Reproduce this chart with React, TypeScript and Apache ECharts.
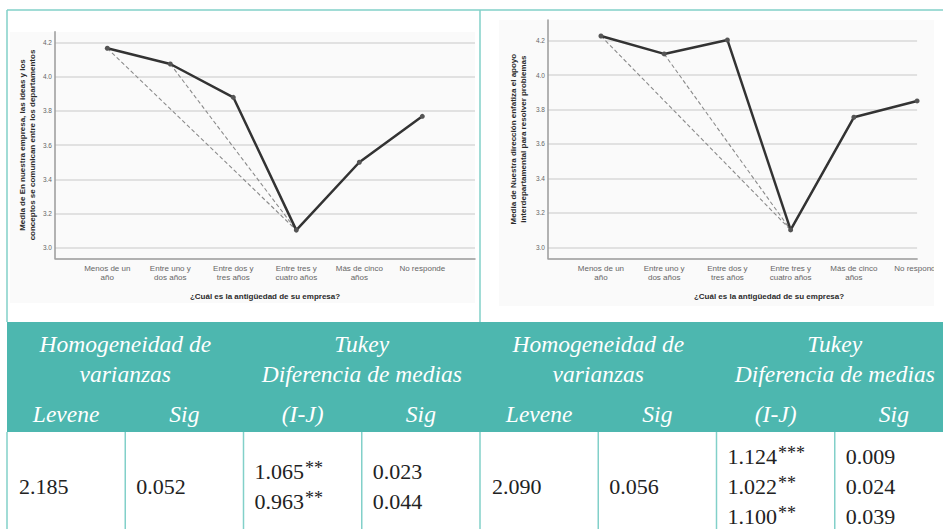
import React, { useEffect, useRef } from "react";
import * as echarts from "echarts";

// ---------- data ----------
const categoryLabels = [
  "Menos de un\naño",
  "Entre uno y\ndos años",
  "Entre dos y\ntres años",
  "Entre tres y\ncuatro años",
  "Más de cinco\naños",
  "No responde",
];
const yTicks = [3.0, 3.2, 3.4, 3.6, 3.8, 4.0, 4.2];
const means1 = [4.167, 4.075, 3.88, 3.103, 3.5, 3.769];
const means2 = [4.227, 4.123, 4.204, 3.101, 3.755, 3.85];
// significant pairs (from index -> to index)
const pairs1 = [[0, 3], [1, 3]];
const pairs2 = [[0, 3], [1, 3]];
const yTitle1 = "Media de En nuestra empresa, las ideas y los\nconceptos se comunican entre los departamentos";
const yTitle2 = "Media de Nuestra dirección enfatiza el apoyo\ninterdepartamental para resolver problemas";
const xTitle = "¿Cuál es la antigüedad de su empresa?";

const groupHeaders = ["Homogeneidad de\nvarianzas", "Tukey\nDiferencia de medias"];
const subHeaders = ["Levene", "Sig", "(I-J)", "Sig"];
const leveneValues = ["2.185", "2.090"];
const leveneSig = ["0.052", "0.056"];
const tukeyDiffs = [["1.065", "0.963"], ["1.124", "1.022", "1.100"]];
const tukeyStars = [["**", "**"], ["***", "**", "**"]];
const tukeySig = [["0.023", "0.044"], ["0.009", "0.024", "0.039"]];

// ---------- styles ----------
const SANS = "Liberation Sans, Arial, sans-serif";
const SERIF = "Liberation Serif, Times New Roman, serif";
const TEAL = "#4db7af";
const TEAL_LINE = "#82d0c9";

function buildChart(gridIndex: number, means: number[], pairs: number[][], yMin: number, yMax: number, xMin: number, xMax: number, yName: string, nameGap: number) {
  const xAxis = {
    gridIndex,
    type: "value",
    min: xMin,
    max: xMax,
    axisLine: { show: true, onZero: false, lineStyle: { color: "#999999", width: 1.5 } },
    axisTick: { show: false, customValues: [0, 1, 2, 3, 4, 5] },
    splitLine: { show: false },
    axisLabel: {
      customValues: [0, 1, 2, 3, 4, 5],
      formatter: (v: number) => categoryLabels[Math.round(v)] ?? "",
      color: "#666",
      fontSize: 8,
      lineHeight: 9,
      margin: 5.5,
      fontFamily: SANS,
      hideOverlap: false,
    },
  };
  const yAxis = {
    gridIndex,
    type: "value",
    min: yMin,
    max: yMax,
    name: yName,
    nameLocation: "middle",
    nameGap,
    nameTextStyle: { fontSize: 8, fontWeight: "bold", color: "#2a2a2a", lineHeight: 10, fontFamily: SANS },
    axisLine: { show: true, onZero: false, lineStyle: { color: "#9a9a9a", width: 1.5 } },
    axisTick: { show: false, customValues: yTicks },
    axisLabel: {
      customValues: yTicks,
      formatter: (v: number) => v.toFixed(1),
      color: "#666",
      fontSize: 6.5,
      margin: 3,
      fontFamily: SANS,
    },
    splitLine: { show: true, lineStyle: { color: "#d9d9d9", width: 1.5 } },
  };
  const series: any[] = [];
  pairs.forEach((p) => {
    series.push({
      type: "line",
      xAxisIndex: gridIndex,
      yAxisIndex: gridIndex,
      data: p.map((i) => [i, means[i]]),
      symbol: "none",
      lineStyle: { color: "#8a8a8a", width: 1.1, type: [4, 2.5] },
      z: 2,
    });
  });
  series.push({
    type: "line",
    xAxisIndex: gridIndex,
    yAxisIndex: gridIndex,
    data: means.map((v, i) => [i, v]),
    symbol: "circle",
    symbolSize: 5,
    itemStyle: { color: "#555" },
    lineStyle: { color: "#333", width: 2.5 },
    z: 3,
  });
  return { xAxis, yAxis, series };
}

export default function App() {
  const ref = useRef<HTMLDivElement>(null);
  useEffect(() => {
    if (!ref.current) return;
    const chart = echarts.init(ref.current, undefined, { renderer: "svg" });

    const c1 = buildChart(0, means1, pairs1, 2.938, 4.264, -0.83, 5.836, yTitle1, 18);
    const c2 = buildChart(1, means2, pairs2, 2.936, 4.32, -0.837, 5.0, yTitle2, 20);

    const colW = 118.25;
    const x0 = 7;
    const colX = Array.from({ length: 9 }, (_, i) => x0 + i * colW);

    const graphic: any[] = [];
    // chart panels
    graphic.push({ type: "rect", z: -10, shape: { x: 10, y: 32, width: 465, height: 271 }, style: { fill: "#fafafa" } });
    graphic.push({ type: "rect", z: -10, shape: { x: 499, y: 20, width: 435, height: 286 }, style: { fill: "#fafafa" } });
    // x titles
    graphic.push({ type: "text", z: 50, x: 265, y: 296.5, style: { text: xTitle, font: `bold 8px ${SANS}`, fill: "#2a2a2a", align: "center", verticalAlign: "middle" } });
    graphic.push({ type: "text", z: 50, x: 769, y: 296, style: { text: xTitle, font: `bold 8px ${SANS}`, fill: "#2a2a2a", align: "center", verticalAlign: "middle" } });
    // clip the right chart at its picture edge
    graphic.push({ type: "rect", z: 90, shape: { x: 934, y: 11, width: 10, height: 311 }, style: { fill: "#ffffff" } });
    // borders
    graphic.push({ type: "line", z: 100, shape: { x1: 7, y1: 10, x2: 943, y2: 10 }, style: { stroke: TEAL_LINE, lineWidth: 1.5 } });
    graphic.push({ type: "line", z: 100, shape: { x1: 7, y1: 10, x2: 7, y2: 322 }, style: { stroke: TEAL_LINE, lineWidth: 1.5 } });
    graphic.push({ type: "line", z: 100, shape: { x1: 480, y1: 10, x2: 480, y2: 322 }, style: { stroke: TEAL_LINE, lineWidth: 1.5 } });
    // header band
    graphic.push({ type: "rect", z: 100, shape: { x: 7, y: 322, width: 936, height: 110 }, style: { fill: TEAL } });
    // data row borders
    for (let i = 0; i < 8; i++) {
      graphic.push({ type: "line", z: 100, shape: { x1: colX[i], y1: 432, x2: colX[i], y2: 529 }, style: { stroke: TEAL_LINE, lineWidth: 1.5 } });
    }
    // header texts
    const headFont = `italic 23.5px ${SERIF}`;
    for (let g = 0; g < 4; g++) {
      const cx = colX[g * 2] + colW;
      graphic.push({
        type: "text", z: 110, x: cx, y: 359,
        style: { text: groupHeaders[g % 2], font: headFont, fill: "#ffffff", align: "center", verticalAlign: "middle", lineHeight: 30 },
      });
    }
    for (let c = 0; c < 8; c++) {
      graphic.push({
        type: "text", z: 110, x: colX[c] + colW / 2, y: 414,
        style: { text: subHeaders[c % 4], font: headFont, fill: "#ffffff", align: "center", verticalAlign: "middle" },
      });
    }
    // data texts
    const numFont = `22px ${SERIF}`;
    const rowC = 486;
    const step = 30;
    for (let t = 0; t < 2; t++) {
      const base = t * 4;
      graphic.push({ type: "text", z: 110, x: colX[base] + 12, y: rowC, style: { text: leveneValues[t], font: numFont, fill: "#222", align: "left", verticalAlign: "middle" } });
      graphic.push({ type: "text", z: 110, x: colX[base + 1] + 11, y: rowC, style: { text: leveneSig[t], font: numFont, fill: "#222", align: "left", verticalAlign: "middle" } });
      const n = tukeyDiffs[t].length;
      for (let k = 0; k < n; k++) {
        const y = rowC + (k - (n - 1) / 2) * step;
        graphic.push({
          type: "text", z: 110, x: colX[base + 2] + 11, y,
          style: {
            text: `{n|${tukeyDiffs[t][k]}}{s|${tukeyStars[t][k]}}`,
            fill: "#222", align: "left", verticalAlign: "middle",
            rich: {
              n: { font: numFont, fill: "#222", lineHeight: 24 },
              s: { font: `18px ${SERIF}`, fill: "#222", lineHeight: 24, verticalAlign: "top", padding: [0, 0, 0, 1] },
            },
          },
        });
        graphic.push({ type: "text", z: 110, x: colX[base + 3] + 11, y, style: { text: tukeySig[t][k], font: numFont, fill: "#222", align: "left", verticalAlign: "middle" } });
      }
    }

    chart.setOption({
      animation: false,
      backgroundColor: "#ffffff",
      grid: [
        { left: 55, top: 31.7, width: 420, height: 226.6 },
        { left: 548, top: 20, width: 386, height: 238.3 },
      ],
      xAxis: [c1.xAxis, c2.xAxis],
      yAxis: [c1.yAxis, c2.yAxis],
      series: [...c1.series, ...c2.series],
      graphic,
    });
    return () => chart.dispose();
  }, []);
  return <div ref={ref} style={{ position: "absolute", left: 0, top: 0, width: 943, height: 529 }} />;
}
